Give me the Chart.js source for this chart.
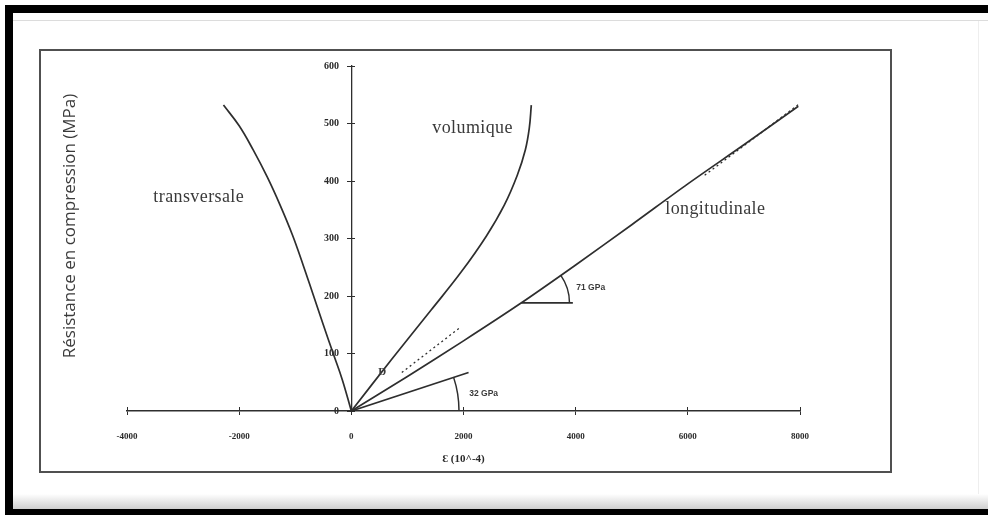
<!DOCTYPE html>
<html>
<head>
<meta charset="utf-8">
<script src="https://cdn.jsdelivr.net/npm/chart.js@4.4.0/dist/chart.umd.min.js"></script>
<style>
html, body { margin: 0; padding: 0; background: #fff; }
#page { position: relative; width: 988px; height: 515px; overflow: hidden; background: #fff; }
.noir { position: absolute; background: #000; }
#ligneHaut { position: absolute; left: 13px; top: 20px; width: 975px; height: 1px; background: #dcdcdc; }
#ombreBas { position: absolute; left: 13px; top: 494px; width: 975px; height: 15px; background: linear-gradient(#fff, #cfcfcf); }
#ligneDroite { position: absolute; left: 978px; top: 21px; width: 1px; height: 473px; background: #eee; }
#cadre { position: absolute; left: 39px; top: 49px; width: 853px; height: 424px; border: 2px solid #505050; box-sizing: border-box; }
#graphe { position: absolute; left: 0; top: 0; }
</style>
</head>
<body>
<div id="page">
	<div class="noir" style="left:5px;top:5px;width:983px;height:8px;"></div>
	<div class="noir" style="left:5px;top:5px;width:8px;height:510px;"></div>
	<div class="noir" style="left:5px;top:509px;width:983px;height:6px;"></div>
	<div id="ligneHaut"></div>
	<div id="ombreBas"></div>
	<div id="ligneDroite"></div>
	<div id="cadre"></div>
	<canvas id="graphe" width="988" height="515"></canvas>
</div>
<script>
// deformation (axe x) et contrainte (MPa, axe y) lues sur la figure
// courbe transversale
var transDef = [0, -160, -320, -500, -680, -860, -1050, -1270, -1500, -1750, -2000, -2280];
var transContr = [0, 54, 99, 150, 202, 254, 306, 358, 407, 454, 496, 532];
// courbe volumique
var volDef = [0, 713, 1426, 1961, 2406, 2727, 2959, 3102, 3173, 3209];
var volContr = [0, 89, 176, 242, 304, 358, 410, 454, 492, 532];
// courbe longitudinale
var longDef = [0, 1000, 2000, 3000, 4000, 5000, 6000, 7000, 7970];
var longContr = [0, 60, 122, 186, 254, 324, 395, 463, 530];
// tangentes et pointilles
var tang32Def = [0, 2090];
var tang32Contr = [0, 67];
var horiz71Def = [3030, 3950];
var horiz71Contr = [188, 188];
var pointDDef = [900, 1950];
var pointDContr = [67, 146];
var pointLongDef = [6300, 8000];
var pointLongContr = [410, 535];
// graduations
var xTicks = [-4000, -2000, 0, 2000, 4000, 6000, 8000];
var yTicks = [0, 100, 200, 300, 400, 500, 600];

var encre = '#2e2e2e';
var policeGradX = { family: '"Liberation Serif", serif', size: 9, weight: 'bold' };
var policeGradY = { family: '"Liberation Serif", serif', size: 10, weight: 'bold' };

function points(xs, ys) {
	var p = [];
	for (var i = 0; i < xs.length; i++) {
		p.push({x: xs[i], y: ys[i]});
	}
	return p;
}

function trait(xs, ys, tension, tirets) {
	return {
		data: points(xs, ys),
		xAxisID: 'x',
		yAxisID: 'y',
		showLine: true,
		borderColor: encre,
		borderWidth: tirets ? 1.3 : 1.7,
		borderDash: tirets || [],
		pointRadius: 0,
		tension: tension,
		fill: false
	};
}

function graduations(liste) {
	return function(s) { s.ticks = liste.map(function(v) { return {value: v}; }); };
}

// textes et arcs poses en coordonnees de donnees
var annotations = {
	id: 'annotations',
	afterDatasetsDraw: function(chart) {
		var ctx = chart.ctx;
		var sx = chart.scales.x, sy = chart.scales.y;
		ctx.save();
		ctx.fillStyle = '#3a3a3a';
		ctx.textBaseline = 'middle';
		ctx.textAlign = 'left';
		ctx.font = '18px "Liberation Serif", "DejaVu Serif", serif';
		ctx.letterSpacing = '0.4px';
		ctx.fillText('transversale', sx.getPixelForValue(-3530), sy.getPixelForValue(372));
		ctx.fillText('volumique', sx.getPixelForValue(1444), sy.getPixelForValue(492));
		ctx.fillText('longitudinale', sx.getPixelForValue(5597), sy.getPixelForValue(351));
		ctx.letterSpacing = '0px';
		ctx.font = 'bold 11px "Liberation Serif", serif';
		ctx.fillText('D', sx.getPixelForValue(480), sy.getPixelForValue(68));
		ctx.font = 'bold 8.5px "Liberation Sans", sans-serif';
		ctx.fillText('71 GPa', sx.getPixelForValue(4011), sy.getPixelForValue(214));
		ctx.fillText('32 GPa', sx.getPixelForValue(2103), sy.getPixelForValue(31));

		// titre de l'axe vertical
		ctx.save();
		ctx.translate(70, 226);
		ctx.rotate(-Math.PI / 2);
		ctx.textAlign = 'center';
		ctx.font = '17px "Open Sans", sans-serif';
		ctx.fillStyle = '#3a3a3a';
		ctx.fillText('Résistance en compression (MPa)', 0, 0);
		ctx.restore();

		// arcs des modules
		ctx.strokeStyle = encre;
		ctx.lineWidth = 1.5;
		var cx = sx.getPixelForValue(3030), cy = sy.getPixelForValue(188);
		var r = sx.getPixelForValue(3890) - cx;
		var a = Math.atan2(sy.getPixelForValue(254) - cy, sx.getPixelForValue(4000) - cx);
		ctx.beginPath();
		ctx.arc(cx, cy, r, a, 0);
		ctx.stroke();
		var ox = sx.getPixelForValue(0), oy = sy.getPixelForValue(0);
		var r2 = sx.getPixelForValue(1920) - ox;
		var a2 = Math.atan2(sy.getPixelForValue(67) - oy, sx.getPixelForValue(2090) - ox);
		ctx.beginPath();
		ctx.arc(ox, oy, r2, a2, 0);
		ctx.stroke();
		ctx.restore();
	}
};

var ctx = document.getElementById('graphe').getContext('2d');
var graphe = new Chart(ctx, {
	type: 'scatter',
	data: {
		datasets: [
			trait(transDef, transContr, 0.4),
			trait(volDef, volContr, 0.4),
			trait(longDef, longContr, 0.3),
			trait(tang32Def, tang32Contr, 0),
			trait(horiz71Def, horiz71Contr, 0),
			trait(pointDDef, pointDContr, 0, [2, 3]),
			trait(pointLongDef, pointLongContr, 0, [2, 3])
		]
	},
	options: {
		responsive: false,
		animation: false,
		events: [],
		layout: { padding: { left: 127, right: 188, top: 66, bottom: 44 } },
		plugins: { legend: { display: false }, tooltip: { enabled: false } },
		scales: {
			x: {
				type: 'linear',
				position: 'bottom',
				min: -4000,
				max: 8000,
				afterBuildTicks: graduations(xTicks),
				afterFit: function(s) { s.height = 60; },
				ticks: { color: '#2a2a2a', padding: 16, font: policeGradX, callback: function(v) { return String(v); } },
				grid: { drawOnChartArea: false, drawTicks: true, tickLength: 4, color: encre },
				border: { color: encre, width: 1.5 },
				title: { display: true, text: 'Ɛ (10^-4)', color: '#2a2a2a', padding: 5, font: { family: '"Liberation Serif", serif', size: 11, weight: 'bold' } }
			},
			// petits traits des graduations x au-dessus de l'axe
			xCroix: {
				type: 'linear',
				position: { y: 0 },
				min: -4000,
				max: 8000,
				afterBuildTicks: graduations(xTicks),
				afterFit: function(s) { s.height = 0; },
				ticks: { display: false },
				grid: { drawOnChartArea: false, drawTicks: true, tickLength: -4, color: encre },
				border: { display: false }
			},
			// axe vertical trace en x = 0 (trait et graduations)
			y: {
				type: 'linear',
				position: { x: 0 },
				min: 0,
				max: 600,
				afterBuildTicks: graduations(yTicks),
				afterFit: function(s) { s.width = 0; },
				ticks: { display: false },
				grid: { drawOnChartArea: false, drawTicks: true, tickLength: 4, color: encre },
				border: { color: encre, width: 1.3, dash: [5, 3] }
			},
			// graduations y a droite du trait
			yCroix: {
				type: 'linear',
				position: { x: 0 },
				min: 0,
				max: 600,
				afterBuildTicks: graduations(yTicks),
				afterFit: function(s) { s.width = 0; },
				ticks: { display: false },
				grid: { drawOnChartArea: false, drawTicks: true, tickLength: -4, color: encre },
				border: { display: false }
			},
			// etiquettes de l'axe vertical, un peu a gauche du trait
			yEtiq: {
				type: 'linear',
				position: { x: -220 },
				min: 0,
				max: 600,
				afterBuildTicks: graduations(yTicks),
				afterFit: function(s) { s.width = 0; },
				ticks: { color: '#2a2a2a', font: policeGradY, callback: function(v) { return String(v); } },
				grid: { display: false },
				border: { display: false }
			}
		}
	},
	plugins: [annotations]
});
</script>
</body>
</html>
